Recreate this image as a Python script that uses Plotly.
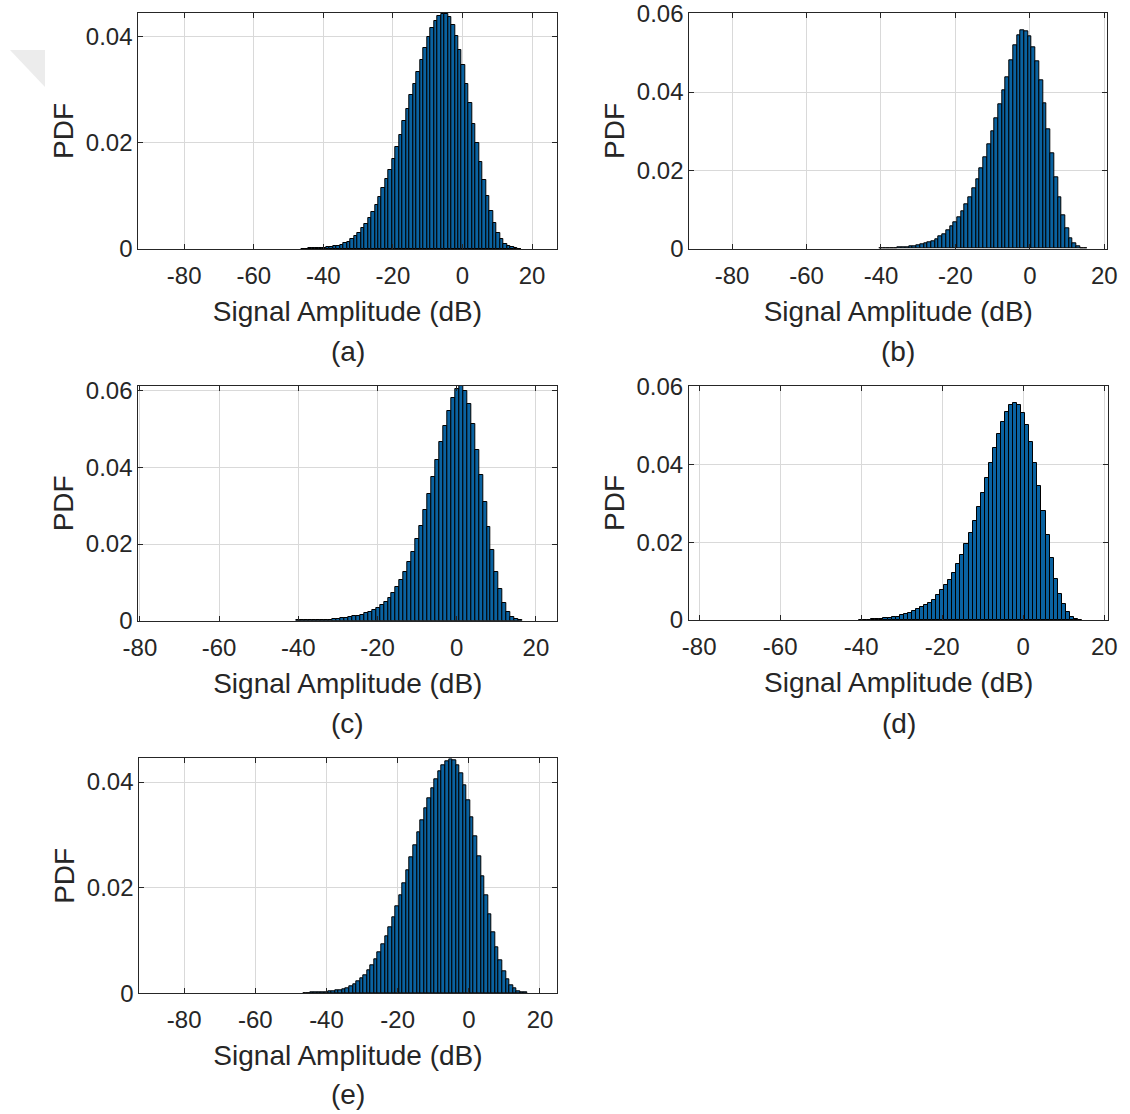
import plotly.graph_objects as go

# ---------------- data (PDF values per 1 dB histogram bin) ----------------
bin_width = 1.0

# (a) first bin centre and PDF values
a_start = -45.7
pdf_a = [0.00005, 0.00005, 0.0001, 0.0001, 0.0001, 0.0002, 0.0002, 0.0003, 0.0004, 0.0005,
         0.0006, 0.0008, 0.0011, 0.0014, 0.0019, 0.0025, 0.0031, 0.0039, 0.0047, 0.0058,
         0.0070, 0.0083, 0.0097, 0.0114, 0.0131, 0.0149, 0.0170, 0.0192, 0.0215, 0.0240,
         0.0263, 0.0289, 0.0310, 0.0333, 0.0356, 0.0379, 0.0399, 0.0415, 0.0429, 0.0439,
         0.0442, 0.0443, 0.0436, 0.0421, 0.0400, 0.0375, 0.0346, 0.0311, 0.0274, 0.0236,
         0.0200, 0.0164, 0.0130, 0.0099, 0.0071, 0.0048, 0.0030, 0.0018, 0.0010, 0.0005,
         0.0003, 0.0001, 0.00005]

# (b)
b_start = -40.0
pdf_b = [0.0001, 0.0001, 0.0001, 0.0002, 0.0002, 0.0003, 0.0003, 0.0004, 0.0005, 0.0007,
         0.0008, 0.0010, 0.0013, 0.0016, 0.0020, 0.0025, 0.0031, 0.0038, 0.0047, 0.0057,
         0.0068, 0.0081, 0.0096, 0.0113, 0.0132, 0.0154, 0.0178, 0.0205, 0.0234, 0.0266,
         0.0299, 0.0334, 0.0369, 0.0405, 0.0438, 0.0482, 0.0520, 0.0546, 0.0558, 0.0554,
         0.0542, 0.0515, 0.0478, 0.0430, 0.0370, 0.0305, 0.0243, 0.0183, 0.0130, 0.0085,
         0.0051, 0.0027, 0.0013, 0.0005, 0.0002, 0.0001]

# (c)
c_start = -39.9
pdf_c = [0.0001, 0.0001, 0.0001, 0.0001, 0.0002, 0.0002, 0.0002, 0.0003, 0.0003, 0.0004,
         0.0005, 0.0006, 0.0007, 0.0009, 0.0011, 0.0013, 0.0016, 0.0019, 0.0023, 0.0028,
         0.0034, 0.0041, 0.0050, 0.0060, 0.0073, 0.0088, 0.0106, 0.0127, 0.0152, 0.0180,
         0.0212, 0.0248, 0.0288, 0.0330, 0.0375, 0.0420, 0.0465, 0.0508, 0.0547, 0.0581,
         0.0605, 0.0612, 0.0598, 0.0565, 0.0512, 0.0445, 0.0380, 0.0310, 0.0245, 0.0185,
         0.0128, 0.0082, 0.0047, 0.0024, 0.0010, 0.0004, 0.0001]

# (d)
d_start = -40.0
pdf_d = [0.0001, 0.0001, 0.0001, 0.0002, 0.0002, 0.0003, 0.0004, 0.0005, 0.0007, 0.0009,
         0.0012, 0.0015, 0.0018, 0.0022, 0.0028, 0.0034, 0.0038, 0.0044, 0.0052, 0.0063,
         0.0076, 0.0089, 0.0104, 0.0122, 0.0143, 0.0167, 0.0194, 0.0223, 0.0254, 0.0289,
         0.0326, 0.0364, 0.0403, 0.0441, 0.0478, 0.0508, 0.0535, 0.0551, 0.0557, 0.0551,
         0.0531, 0.0500, 0.0458, 0.0404, 0.0343, 0.0280, 0.0218, 0.0158, 0.0106, 0.0068,
         0.0041, 0.0021, 0.0008, 0.0002, 0.0001]

# (e)
e_start = -46.1
pdf_e = [0.00005, 0.00005, 0.0001, 0.0001, 0.0001, 0.0002, 0.0002, 0.0003, 0.0004, 0.0005,
         0.0006, 0.0008, 0.0010, 0.0013, 0.0017, 0.0022, 0.0028, 0.0035, 0.0043, 0.0053,
         0.0064, 0.0077, 0.0092, 0.0108, 0.0125, 0.0144, 0.0164, 0.0186, 0.0209, 0.0233,
         0.0257, 0.0281, 0.0305, 0.0328, 0.0350, 0.0370, 0.0389, 0.0406, 0.0420, 0.0431,
         0.0439, 0.0443, 0.0441, 0.0432, 0.0416, 0.0394, 0.0366, 0.0334, 0.0298, 0.0260,
         0.0222, 0.0185, 0.0149, 0.0116, 0.0087, 0.0062, 0.0042, 0.0027, 0.0016, 0.0009,
         0.0004, 0.0002, 0.0001]

x_ticks = [-80, -60, -40, -20, 0, 20]
x_ticktext = ["-80", "-60", "-40", "-20", "0", "20"]
y_ticks_small = [0, 0.02, 0.04]
y_ticks_large = [0, 0.02, 0.04, 0.06]
y_ticktext_small = ["0", "0.02", "0.04"]
y_ticktext_large = ["0", "0.02", "0.04", "0.06"]

panel_letters = ["(a)", "(b)", "(c)", "(d)", "(e)"]
x_label = "Signal Amplitude (dB)"
y_label = "PDF"

# ---------------- layout geometry (pixels) ----------------
W, H = 1130, 1114
panels = [
    (a_start, pdf_a, (138.3, 556.7), (13.0, 249.0), [-93.2, 27.1], [0, 0.0444], y_ticks_small, y_ticktext_small, 352),
    (b_start, pdf_b, (689.3, 1107.3), (13.3, 248.7), [-91.5, 20.8], [0, 0.0601], y_ticks_large, y_ticktext_large, 352),
    (c_start, pdf_c, (138.3, 557.3), (386.0, 620.7), [-80.4, 25.4], [0, 0.0612], y_ticks_large, y_ticktext_large, 723),
    (d_start, pdf_d, (689.0, 1108.3), (386.0, 620.0), [-82.5, 21.0], [0, 0.0601], y_ticks_large, y_ticktext_large, 723),
    (e_start, pdf_e, (139.3, 556.7), (758.3, 993.3), [-92.6, 24.7], [0, 0.0445], y_ticks_small, y_ticktext_small, 1094),
]

FONT = "Liberation Sans, Arial, Helvetica, sans-serif"
TXT = "#262626"
BAR_FILL = "#0a62a0"

fig = go.Figure()
layout = dict(
    width=W, height=H,
    margin=dict(l=0, r=0, t=0, b=0, autoexpand=False),
    paper_bgcolor="white", plot_bgcolor="white",
    showlegend=False, bargap=0,
    font=dict(family=FONT, color=TXT, size=24),
    annotations=[], shapes=[],
)

for i, (start, vals, xd, yd, xr, yr, yt, ytt, lab_y) in enumerate(panels):
    n = i + 1
    xa = "x" if n == 1 else f"x{n}"
    ya = "y" if n == 1 else f"y{n}"
    centers = [start + k * bin_width for k in range(len(vals))]
    fig.add_trace(go.Bar(
        x=centers, y=vals, width=bin_width,
        marker=dict(color=BAR_FILL, line=dict(color="black", width=1)),
        xaxis=xa, yaxis=ya, hoverinfo="x+y",
    ))
    x_dom = [xd[0] / W, xd[1] / W]
    y_dom = [1 - yd[1] / H, 1 - yd[0] / H]
    axis_common = dict(
        showline=True, linecolor="#262626", linewidth=1, mirror="ticks",
        ticks="inside", ticklen=5, tickcolor="#262626", tickwidth=1,
        showgrid=True, gridcolor="#d9d9d9", gridwidth=1,
        zeroline=False, automargin=False,
        tickfont=dict(family=FONT, size=24, color=TXT),
    )
    layout["xaxis" if n == 1 else f"xaxis{n}"] = dict(
        axis_common, domain=x_dom, anchor=ya, range=xr,
        tickvals=x_ticks, ticktext=x_ticktext, ticklabelstandoff=5,
        title=dict(text=x_label, font=dict(family=FONT, size=28, color=TXT), standoff=13),
    )
    layout["yaxis" if n == 1 else f"yaxis{n}"] = dict(
        axis_common, domain=y_dom, anchor=xa, range=yr,
        tickvals=yt, ticktext=ytt,
        title=dict(text=y_label, font=dict(family=FONT, size=28, color=TXT), standoff=3),
    )
    layout["annotations"].append(dict(
        text=panel_letters[i], xref="paper", yref="paper",
        x=(xd[0] + xd[1]) / 2 / W, y=1 - lab_y / H,
        xanchor="center", yanchor="middle", showarrow=False,
        font=dict(family=FONT, size=28, color=TXT),
    ))

# faint page-corner mark at top left
layout["shapes"].append(dict(
    type="path", xref="paper", yref="paper",
    path=f"M {10/W},{1-50/H} L {45/W},{1-50/H} L {45/W},{1-87/H} Z",
    fillcolor="#ececec", line=dict(width=0), layer="below",
))

fig.update_layout(**layout)
fig.write_html("out.html")
